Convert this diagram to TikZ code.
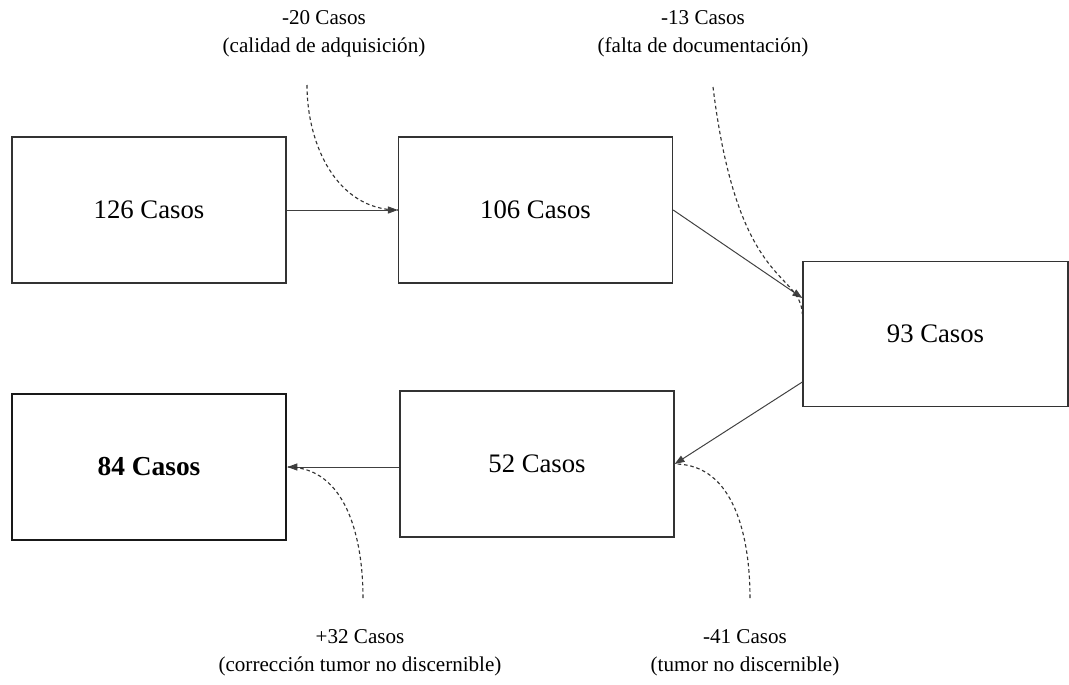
\documentclass[tikz,border=0pt]{standalone}
\usepackage{fontspec}
\setmainfont{Liberation Serif}
\usepackage{tikz}
\usetikzlibrary{calc}
\usetikzlibrary{arrows.meta}
\usepackage{xcolor}

\begin{document}
\begin{tikzpicture}[x=0.025cm, y=-0.025cm]
        % ================= 样式定义 =================
        \tikzset{
            % 方框:统一大小,字体约 19pt
            caja/.style={rectangle, draw=black!80, line width=0.9pt, fill=white, minimum width=6.85cm, minimum height=3.65cm, inner sep=0pt, font=\fontsize{19}{23}\selectfont},
            cajafinal/.style={caja, line width=2pt, draw=black!90, font=\fontsize{19.5}{23}\selectfont\bfseries},
            nota/.style={align=center, font=\fontsize{15}{20}\selectfont, inner sep=0pt},
            flecha/.style={black!75, line width=0.7pt, -{Triangle[length=7pt, width=5pt]}},
            curva/.style={black!80, line width=0.8pt, dash pattern=on 2.5pt off 2pt}
        }

        % 固定画布 (与原图比例一致)
        \useasboundingbox (0,0) rectangle (1069,684);

        % ================= 方框 =================
        \node[caja] (c126) at (149, 210)   {126 Casos};
        \node[caja] (c106) at (535.5, 210) {106 Casos};
        \node[caja, minimum width=6.625cm, minimum height=3.625cm] (c93) at (935.5, 334) {93 Casos};
        \node[caja] (c52) at (537, 464)    {52 Casos};
        \node[cajafinal] (c84) at (149, 467) {84 Casos};

        % ================= 说明文字 =================
        \node[nota] (n20) at (324, 34)  {-20 Casos\\(calidad de adquisición)};
        \node[nota] (n13) at (703, 34)  {-13 Casos\\(falta de documentación)};
        \node[nota] (n32) at (360, 653) {+32 Casos\\(corrección tumor no discernible)};
        \node[nota] (n41) at (745, 653) {-41 Casos\\(tumor no discernible)};

        % 虚线起点
        \coordinate (s20) at (307, 85);
        \coordinate (s13) at (713, 87);
        \coordinate (s32) at (363, 598);
        \coordinate (s41) at (750, 598);

        % ================= 实线箭头 =================
        \draw[flecha] (c126.east) -- (c106.west);
        \draw[flecha] (c106.east) -- ($(c93.west)+(0,-36)$);
        \draw[flecha] ($(c93.west)+(0,48)$) -- (c52.east);
        \draw[flecha] (c52.west |- c84.east) -- (c84.east);

        % ================= 虚线曲线 =================
        \draw[curva] (s20) to[out=-90, in=180] (c106.west);
        \draw[curva] (s13) .. controls (738, 290) and (800, 270) .. ($(c93.west)+(0,-20)$);
        \draw[curva] (s41) to[out=90, in=0] (c52.east);
        \draw[curva] (s32) to[out=90, in=0] (c84.east);

    \end{tikzpicture}
\end{document}
